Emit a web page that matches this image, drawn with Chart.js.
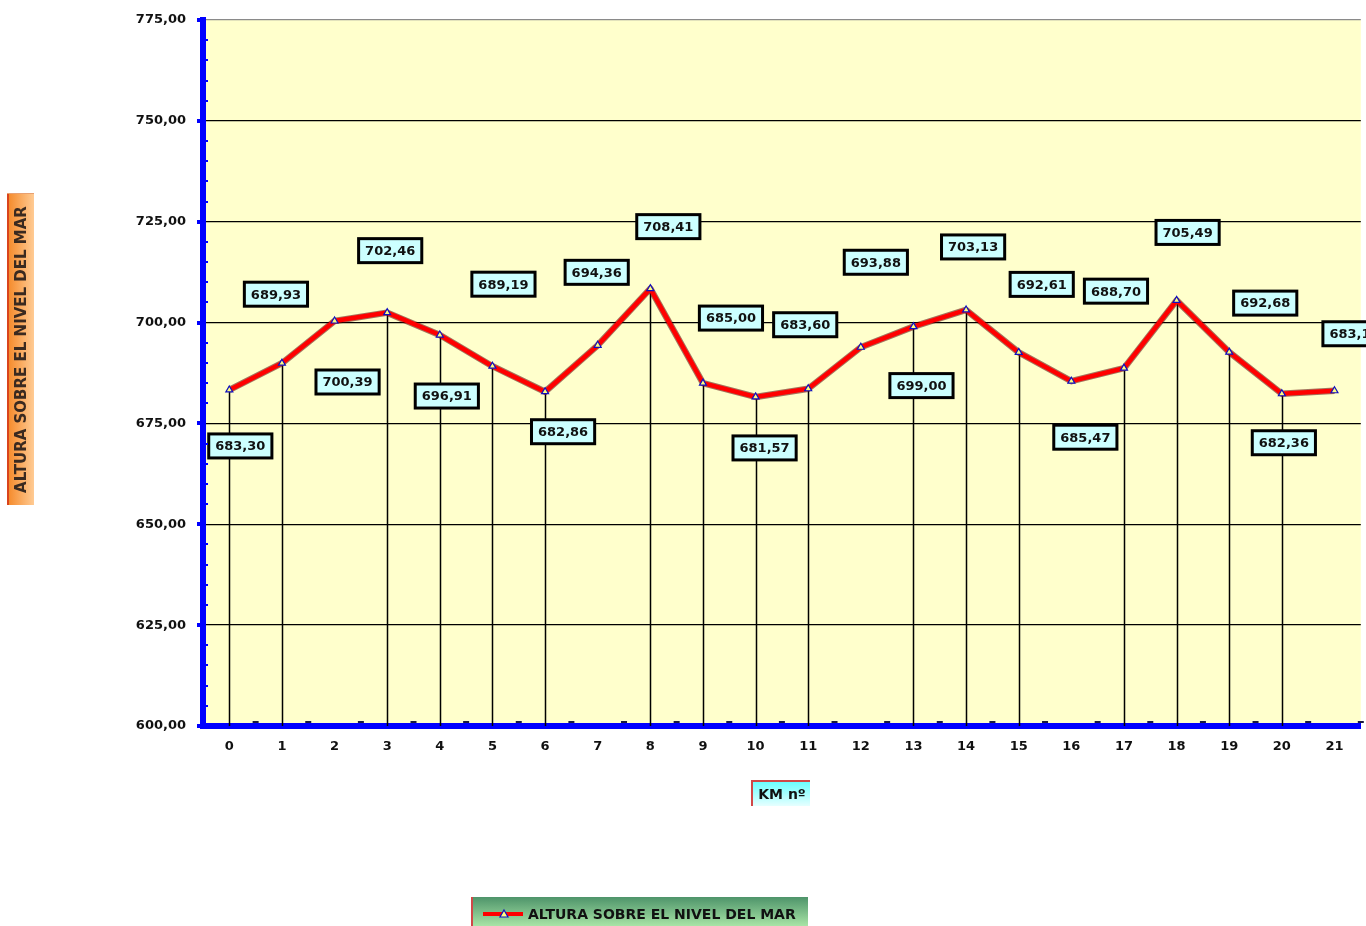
<!DOCTYPE html>
<html>
<head>
<meta charset="utf-8">
<script src="https://cdn.jsdelivr.net/npm/chart.js@4.4.0/dist/chart.umd.min.js"></script>
<style>
    html, body { margin: 0; padding: 0; background: #fff; }
    #wrap { width: 1366px; height: 926px; position: relative; overflow: hidden; }
</style>
</head>
<body>
<div id="wrap"><canvas id="perfil" width="1366" height="926"></canvas></div>
<script>
// data
var KM_LABELS = ['0', '1', '2', '3', '4', '5', '6', '7', '8', '9', '10',
    '11', '12', '13', '14', '15', '16', '17', '18', '19', '20', '21'];
var ALTURAS = [683.30, 689.93, 700.39, 702.46, 696.91, 689.19, 682.86, 694.36, 708.41, 685.00, 681.57,
    683.60, 693.88, 699.00, 703.13, 692.61, 685.47, 688.70, 705.49, 692.68, 682.36, 683.10];
var SERIES_NAME = 'ALTURA SOBRE EL NIVEL DEL MAR';
var Y_TITLE = 'ALTURA SOBRE EL NIVEL DEL MAR';
var X_TITLE = 'KM nº';
var Y_MIN = 600;
var Y_MAX = 775;
var Y_STEP = 25;

// where each value label sits relative to its point (px), and which points get a drop line
var LABEL_OFFSETS = [
    [11, 56], [-6, -69], [13, 61], [3, -62], [7, 61], [11, -82], [18, 40], [-1, -73],
    [18, -62], [28, -65], [9, 51], [-3, -64], [15, -85], [8, 59], [7, -63], [23, -68],
    [14, 56], [-8, -77], [11, -68], [36, -49], [2, 49], [20, -57]
];
var DROP_LINES = [1, 1, 0, 1, 1, 1, 1, 0, 1, 1, 1, 1, 0, 1, 1, 1, 0, 1, 1, 1, 1, 0];

var FONT = '"DejaVu Sans", "Liberation Sans", sans-serif';

function fmt(v) {
    return v.toFixed(2).replace('.', ',');
}

var decor = {
    id: 'perfilDecor',
    beforeDraw: function (chart) {
        var a = chart.chartArea, ctx = chart.ctx;
        ctx.save();
        ctx.fillStyle = '#FFFFCC';
        ctx.fillRect(a.left, a.top, a.right - a.left, a.bottom - a.top);
        ctx.restore();
    },
    beforeDatasetsDraw: function (chart) {
        var ctx = chart.ctx, a = chart.chartArea;
        var pts = chart.getDatasetMeta(0).data;
        ctx.save();
        ctx.strokeStyle = '#000';
        ctx.lineWidth = 1.5;
        for (var i = 0; i < pts.length; i++) {
            if (!DROP_LINES[i]) continue;
            ctx.beginPath();
            ctx.moveTo(Math.round(pts[i].x) + 0.5, pts[i].y);
            ctx.lineTo(Math.round(pts[i].x) + 0.5, a.bottom);
            ctx.stroke();
        }
        // dark rim under the red profile line
        ctx.strokeStyle = 'rgba(90,0,0,0.55)';
        ctx.lineWidth = 6.5;
        ctx.lineJoin = 'round';
        ctx.beginPath();
        for (var j = 0; j < pts.length; j++) {
            if (j === 0) ctx.moveTo(pts[j].x, pts[j].y);
            else ctx.lineTo(pts[j].x, pts[j].y);
        }
        ctx.stroke();
        ctx.restore();
    },
    afterDatasetsDraw: function (chart) {
        var ctx = chart.ctx;
        var pts = chart.getDatasetMeta(0).data;
        var vals = chart.data.datasets[0].data;
        ctx.save();
        ctx.font = 'bold 13px ' + FONT;
        ctx.textAlign = 'center';
        ctx.textBaseline = 'middle';
        for (var i = 0; i < pts.length; i++) {
            var txt = fmt(vals[i]);
            var off = LABEL_OFFSETS[i] || [0, -40];
            var cx = pts[i].x + off[0], cy = pts[i].y + off[1];
            var w = ctx.measureText(txt).width + 13, h = 24;
            ctx.fillStyle = '#CCFFFF';
            ctx.fillRect(cx - w / 2, cy - h / 2, w, h);
            ctx.strokeStyle = '#000';
            ctx.lineWidth = 3;
            ctx.strokeRect(cx - w / 2, cy - h / 2, w, h);
            ctx.fillStyle = '#111';
            ctx.fillText(txt, cx, cy + 1);
        }
        ctx.restore();
    },
    afterDraw: function (chart) {
        var ctx = chart.ctx, a = chart.chartArea;
        var ys = chart.scales.y, xs = chart.scales.x;
        ctx.save();

        // small marks along the y axis (major outside, minor inside)
        ctx.fillStyle = '#0000FF';
        for (var v = Y_MIN; v <= Y_MAX; v += 5) {
            var py = Math.round(ys.getPixelForValue(v));
            if (v % Y_STEP === 0) ctx.fillRect(a.left - 6, py - 2, 6, 4);
            else ctx.fillRect(a.left + 2, py - 1, 3, 2);
        }
        // marks between categories on the x axis
        ctx.fillStyle = '#1a1a40';
        for (var k = 0; k < KM_LABELS.length; k++) {
            var bx = (xs.getPixelForValue(k) + xs.getPixelForValue(k + 1)) / 2;
            if (bx > a.right) continue;
            ctx.fillRect(bx - 3, a.bottom - 5, 6, 2);
        }

        // y title box
        var g = ctx.createLinearGradient(8, 0, 34, 0);
        g.addColorStop(0, '#F58A2A');
        g.addColorStop(1, '#FFCB94');
        ctx.fillStyle = g;
        ctx.fillRect(8, 194, 26, 311);
        ctx.fillStyle = '#D9441C';
        ctx.fillRect(7, 194, 2, 311);
        ctx.fillStyle = '#E8A070';
        ctx.fillRect(7, 193, 27, 1);
        ctx.translate(21.5, 349.5);
        ctx.rotate(-Math.PI / 2);
        ctx.font = 'bold 15px ' + FONT;
        ctx.textAlign = 'center';
        ctx.textBaseline = 'middle';
        ctx.fillStyle = '#3a2a20';
        ctx.fillText(Y_TITLE, 0, 1);
        ctx.setTransform(1, 0, 0, 1, 0, 0);

        // x title box
        var gx = ctx.createLinearGradient(0, 781, 0, 806);
        gx.addColorStop(0, '#66FFFF');
        gx.addColorStop(1, '#E6FFFF');
        ctx.fillStyle = gx;
        ctx.fillRect(752, 781, 58, 25);
        ctx.fillStyle = '#D04848';
        ctx.fillRect(752, 780, 58, 2);
        ctx.fillRect(751, 780, 2, 26);
        ctx.font = 'bold 14px ' + FONT;
        ctx.textAlign = 'center';
        ctx.textBaseline = 'middle';
        ctx.fillStyle = '#111';
        ctx.fillText(X_TITLE, 782, 795);

        // legend box
        var ds = chart.data.datasets[0];
        var gl = ctx.createLinearGradient(0, 897, 0, 926);
        gl.addColorStop(0, '#4E946A');
        gl.addColorStop(1, '#A8E4A6');
        ctx.fillStyle = gl;
        ctx.fillRect(472, 897, 336, 29);
        ctx.fillStyle = '#D04848';
        ctx.fillRect(471, 897, 2, 29);
        ctx.strokeStyle = ds.borderColor;
        ctx.lineWidth = 4;
        ctx.beginPath();
        ctx.moveTo(483, 914);
        ctx.lineTo(523, 914);
        ctx.stroke();
        ctx.beginPath();
        ctx.moveTo(504, 910);
        ctx.lineTo(508, 917);
        ctx.lineTo(500, 917);
        ctx.closePath();
        ctx.fillStyle = ds.pointBackgroundColor;
        ctx.fill();
        ctx.strokeStyle = ds.pointBorderColor;
        ctx.lineWidth = 1.2;
        ctx.stroke();
        ctx.font = 'bold 14px ' + FONT;
        ctx.textAlign = 'left';
        ctx.textBaseline = 'middle';
        ctx.fillStyle = '#111';
        ctx.fillText(ds.label, 528, 915);

        ctx.restore();
    }
};

new Chart(document.getElementById('perfil').getContext('2d'), {
    type: 'line',
    data: {
        labels: KM_LABELS,
        datasets: [{
            label: SERIES_NAME,
            data: ALTURAS,
            borderColor: '#FF0000',
            borderWidth: 4.5,
            tension: 0,
            fill: false,
            pointStyle: 'triangle',
            pointRadius: 4,
            pointBorderWidth: 1.2,
            pointBorderColor: '#1010C0',
            pointBackgroundColor: '#FFFF80',
        }],
    },
    options: {
        responsive: false,
        animation: false,
        events: [],
        layout: { padding: { top: 20, right: 3, left: 0, bottom: 0 } },
        plugins: {
            legend: { display: false },
            tooltip: { enabled: false },
        },
        scales: {
            x: {
                type: 'category',
                offset: true,
                grid: { drawOnChartArea: false, drawTicks: false },
                border: { color: '#0000FF', width: 6 },
                ticks: {
                    font: { family: FONT, size: 13, weight: 'bold' },
                    color: '#111',
                    padding: 13,
                    autoSkip: false,
                    maxRotation: 0,
                },
                afterFit: function (scale) {
                    scale.height = 200;
                    scale.paddingLeft = 0;
                    scale.paddingRight = 0;
                },
            },
            y: {
                min: Y_MIN,
                max: Y_MAX,
                grid: {
                    drawTicks: false,
                    lineWidth: 1.3,
                    color: function (c) { return c.tick && c.tick.value === Y_MAX ? '#8a8a8a' : '#000'; },
                },
                border: { color: '#0000FF', width: 6 },
                ticks: {
                    stepSize: Y_STEP,
                    font: { family: FONT, size: 13, weight: 'bold' },
                    color: '#111',
                    padding: 17,
                    callback: function (v) { return fmt(v); },
                },
                afterFit: function (scale) {
                    scale.width = 203;
                    scale.paddingTop = 0;
                    scale.paddingBottom = 0;
                },
            },
        },
    },
    plugins: [decor],
});
</script>
</body>
</html>
